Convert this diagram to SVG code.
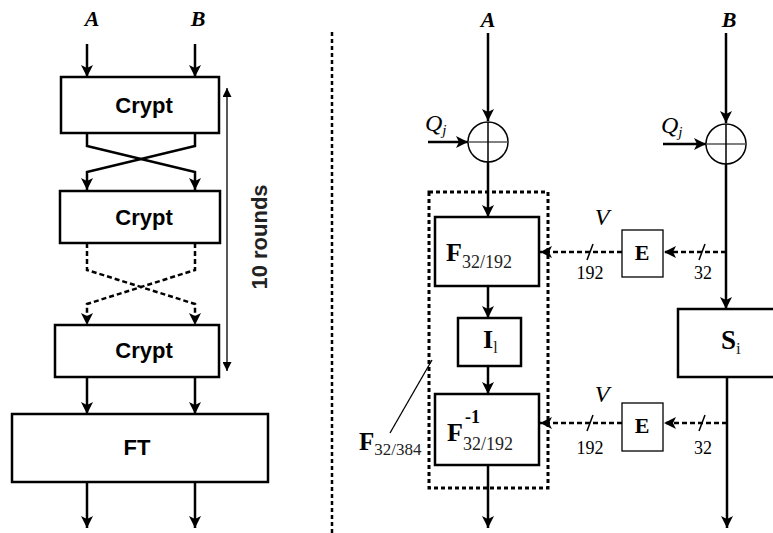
<svg xmlns="http://www.w3.org/2000/svg" width="773" height="533" viewBox="0 0 773 533">
<defs>
<marker id="ahb" viewBox="0 0 12 12" refX="12" refY="6" markerWidth="12" markerHeight="12" markerUnits="userSpaceOnUse" orient="auto"><path d="M0,0 L12,6 L0,12 L3,6 z" fill="#000"/></marker>
<marker id="ah2" viewBox="0 0 10 10" refX="10" refY="5" markerWidth="9" markerHeight="9" markerUnits="userSpaceOnUse" orient="auto"><path d="M0,0 L10,5 L0,10 z" fill="#000"/></marker>
</defs>
<style>
.box{fill:#fff;stroke:#000;stroke-width:2.5}
.thin{fill:#fff;stroke:#000;stroke-width:1.3}
.ln{fill:none;stroke:#000;stroke-width:2.5}
.dl{fill:none;stroke:#000;stroke-width:2.5;stroke-dasharray:5 3}
.dd{fill:none;stroke:#000;stroke-width:3;stroke-dasharray:4 3}
.sans{font-family:"Liberation Sans",Arial,sans-serif;font-weight:bold;font-size:22px;text-anchor:middle}
.ser{font-family:"Liberation Serif","Times New Roman",serif}
.it{font-family:"Liberation Serif","Times New Roman",serif;font-style:italic}
</style>
<!-- separator -->
<line x1="332" y1="32" x2="332" y2="533" stroke="#000" stroke-width="2.5" stroke-dasharray="4 3"/>
<!-- labels -->
<text x="92" y="26" class="it" font-weight="bold" font-size="22" text-anchor="middle">A</text>
<text x="198" y="26" class="it" font-weight="bold" font-size="22" text-anchor="middle">B</text>
<text x="488" y="27" class="it" font-weight="bold" font-size="22" text-anchor="middle">A</text>
<text x="729" y="27" class="it" font-weight="bold" font-size="22" text-anchor="middle">B</text>
<g id="connectors">
<line x1="87" y1="44" x2="87" y2="77" class="ln" marker-end="url(#ahb)"/>
<line x1="195" y1="44" x2="195" y2="77" class="ln" marker-end="url(#ahb)"/>
<path d="M87,133 V146 L195,172 V190" class="ln" marker-end="url(#ahb)"/>
<path d="M195,133 V146 L87,172 V190" class="ln" marker-end="url(#ahb)"/>
<path d="M87,243 V270 L195,304 V325" class="dl" marker-end="url(#ahb)"/>
<path d="M195,243 V270 L87,304 V325" class="dl" marker-end="url(#ahb)"/>
<line x1="87" y1="377" x2="87" y2="414" class="ln" marker-end="url(#ahb)"/>
<line x1="195" y1="377" x2="195" y2="414" class="ln" marker-end="url(#ahb)"/>
<line x1="87" y1="482" x2="87" y2="528" class="ln" marker-end="url(#ahb)"/>
<line x1="195" y1="482" x2="195" y2="528" class="ln" marker-end="url(#ahb)"/>
<line x1="227" y1="240" x2="227" y2="88" stroke="#000" stroke-width="1.3" marker-end="url(#ah2)"/>
<line x1="227" y1="240" x2="227" y2="371" stroke="#000" stroke-width="1.3" marker-end="url(#ah2)"/>
<!-- right -->
<line x1="488" y1="33" x2="488" y2="121" class="ln" marker-end="url(#ahb)"/>
<line x1="428" y1="142" x2="468" y2="142" class="ln" marker-end="url(#ahb)"/>
<line x1="488" y1="162" x2="488" y2="217" class="ln" marker-end="url(#ahb)"/>
<line x1="488" y1="286" x2="488" y2="318" class="ln" marker-end="url(#ahb)"/>
<line x1="488" y1="366" x2="488" y2="394" class="ln" marker-end="url(#ahb)"/>
<line x1="488" y1="465" x2="488" y2="528" class="ln" marker-end="url(#ahb)"/>
<line x1="726" y1="33" x2="726" y2="123" class="ln" marker-end="url(#ahb)"/>
<line x1="663" y1="144" x2="706" y2="144" class="ln" marker-end="url(#ahb)"/>
<line x1="726" y1="164" x2="726" y2="309" class="ln" marker-end="url(#ahb)"/>
<line x1="727" y1="377" x2="727" y2="528" class="ln" marker-end="url(#ahb)"/>
<line x1="726" y1="252" x2="664" y2="252" class="dl" marker-end="url(#ahb)"/>
<line x1="622" y1="252" x2="540" y2="252" class="dl" marker-end="url(#ahb)"/>
<line x1="727" y1="423" x2="664" y2="423" class="dl" marker-end="url(#ahb)"/>
<line x1="622" y1="423" x2="540" y2="423" class="dl" marker-end="url(#ahb)"/>
<g stroke="#000" stroke-width="1.5">
<line x1="587" y1="260" x2="593" y2="244"/>
<line x1="699" y1="260" x2="705" y2="244"/>
<line x1="587" y1="431" x2="593" y2="415"/>
<line x1="699" y1="431" x2="705" y2="415"/>
</g>
<line x1="390" y1="433" x2="432" y2="360" stroke="#000" stroke-width="1.3"/>
</g>
<g id="crypt1"><rect x="61" y="77" width="158" height="56" class="box"/><text x="144" y="113" class="sans">Crypt</text></g>
<g id="crypt2"><rect x="60" y="191" width="160" height="52" class="box"/><text x="144" y="225" class="sans">Crypt</text></g>
<g id="crypt3"><rect x="55" y="325" width="164" height="52" class="box"/><text x="144" y="358" class="sans">Crypt</text></g>
<g id="ft"><rect x="12" y="414" width="256" height="68" class="box"/><text x="137" y="455" class="sans">FT</text></g>
<g id="rounds"><text transform="translate(267,237) rotate(-90)" class="sans" font-size="22" fill="#222">10 rounds</text></g>
<g id="xor1"><circle cx="488" cy="142" r="20" fill="#fff" stroke="#000" stroke-width="1.5"/><line x1="468" y1="142" x2="508" y2="142" stroke="#555" stroke-width="1.3"/><line x1="488" y1="122" x2="488" y2="162" stroke="#000" stroke-width="1.5"/>
<text x="425" y="131" class="it" font-size="24">Q<tspan font-size="15" dy="4">j</tspan></text></g>
<g id="xor2"><circle cx="726" cy="144" r="20" fill="#fff" stroke="#000" stroke-width="1.5"/><line x1="706" y1="144" x2="746" y2="144" stroke="#555" stroke-width="1.3"/><line x1="726" y1="124" x2="726" y2="164" stroke="#000" stroke-width="1.5"/>
<text x="661" y="133" class="it" font-size="24">Q<tspan font-size="15" dy="4">j</tspan></text></g>
<g id="f384"><rect x="429" y="192" width="119" height="296" class="dd"/>
<text x="359" y="450" class="ser" font-weight="bold" font-size="25">F<tspan font-weight="normal" font-size="17" dy="5" fill="#222">32/384</tspan></text></g>
<g id="f1"><rect x="435" y="217" width="104" height="69" class="box"/>
<text x="446" y="261" class="ser" font-weight="bold" font-size="26">F<tspan font-weight="normal" font-size="18" dy="7" fill="#222">32/192</tspan></text></g>
<g id="i1"><rect x="458" y="318" width="63" height="48" class="box"/>
<text x="483" y="348" class="ser" font-weight="bold" font-size="26">I<tspan font-weight="normal" font-size="16" dy="5" fill="#222">l</tspan></text></g>
<g id="finv"><rect x="435" y="394" width="104" height="71" class="box"/>
<text x="447" y="441" class="ser" font-weight="bold" font-size="26">F</text>
<text x="465" y="423" class="ser" font-weight="bold" font-size="18">-1</text>
<text x="463" y="450" class="ser" font-size="18" fill="#222">32/192</text></g>
<g id="e1"><rect x="622" y="230" width="41" height="47" class="thin"/><text x="642" y="260" class="ser" font-weight="bold" font-size="22" text-anchor="middle">E</text></g>
<g id="e2"><rect x="622" y="403" width="41" height="48" class="thin"/><text x="642" y="433" class="ser" font-weight="bold" font-size="22" text-anchor="middle">E</text></g>
<g id="si"><rect x="678" y="309" width="100" height="68" class="box"/>
<text x="721" y="349" class="ser" font-weight="bold" font-size="27">S<tspan font-weight="normal" font-size="17" dy="5" fill="#222">i</tspan></text></g>
<g id="buslabels" class="ser" font-size="18" text-anchor="middle">
<text x="602" y="225" class="it" font-size="24">V</text>
<text x="590" y="279">192</text>
<text x="703" y="279">32</text>
<text x="602" y="402" class="it" font-size="24">V</text>
<text x="590" y="454">192</text>
<text x="703" y="454">32</text>
</g>
</svg>
